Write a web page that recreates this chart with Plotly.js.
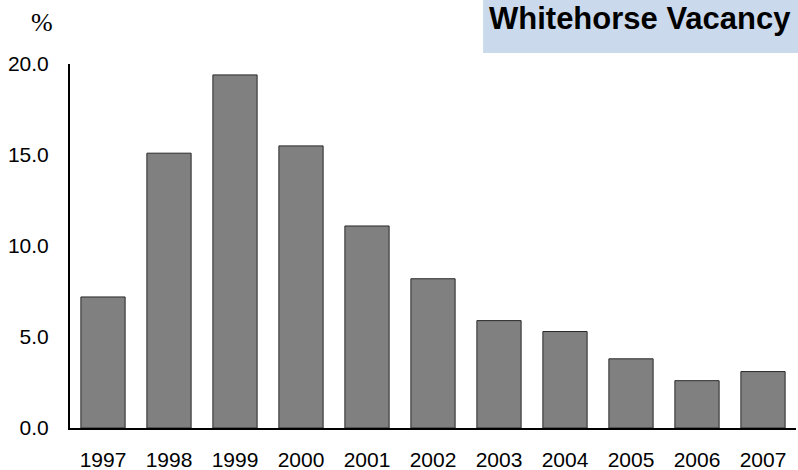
<!DOCTYPE html>
<html>
<head>
<meta charset="utf-8">
<script src="https://cdn.plot.ly/plotly-3.0.1.min.js"></script>
<style>
  html, body { margin: 0; padding: 0; background: #fff; }
  #chart { width: 798px; height: 470px; }
</style>
</head>
<body>
<div id="chart"></div>
<script>
// vacancy rate by year (%)
let years = ['1997', '1998', '1999', '2000', '2001', '2002', '2003', '2004', '2005', '2006', '2007'];
let vacancyRates = [7.2, 15.1, 19.4, 15.5, 11.1, 8.2, 5.9, 5.3, 3.8, 2.6, 3.1];
let yTicks = [0, 5, 10, 15, 20];

let vacancyTrace = {
    x: years,
    y: vacancyRates,
    type: 'bar',
    marker: { color: 'rgb(128,128,128)', line: { color: 'rgb(40,40,40)', width: 1 } },
    hoverinfo: 'x+y'
};

let layout_vacancy = {
    width: 798,
    height: 470,
    margin: { l: 70, r: 2, t: 64, b: 42 },
    paper_bgcolor: '#fff',
    plot_bgcolor: '#fff',
    bargap: 0.33,
    showlegend: false,
    font: { family: 'Liberation Sans, Arial, sans-serif', size: 21, color: '#000' },
    xaxis: {
        type: 'category',
        showline: true, linecolor: '#000', linewidth: 2,
        ticks: '', showgrid: false, zeroline: false,
        ticklabelstandoff: 12,
        tickfont: { size: 21 }
    },
    yaxis: {
        range: [0, 20],
        tickvals: yTicks,
        ticktext: yTicks.map(v => v.toFixed(1)),
        showline: true, linecolor: '#000', linewidth: 2,
        ticks: '', showgrid: false, zeroline: false,
        ticklabelstandoff: 15,
        tickfont: { size: 21 }
    },
    shapes: [{
        type: 'rect', xref: 'paper', yref: 'paper',
        x0: 0.569, x1: 1.01, y0: 1.03, y1: 1.2,
        fillcolor: 'rgb(203,217,237)', line: { width: 0 }, layer: 'below'
    }],
    annotations: [
        {
            text: '<b>Whitehorse Vacancy</b>', xref: 'paper', yref: 'paper',
            x: 0.785, y: 1.124, xanchor: 'center', yanchor: 'middle', showarrow: false,
            font: { size: 31, family: 'Liberation Sans, Arial, sans-serif' }
        },
        {
            text: '%', xref: 'paper', yref: 'paper',
            x: -0.0386, y: 1.115, xanchor: 'center', yanchor: 'middle', showarrow: false,
            font: { size: 26, family: 'Liberation Serif, Times New Roman, serif' }
        }
    ]
};

Plotly.newPlot('chart', [vacancyTrace], layout_vacancy, { displayModeBar: false });
</script>
</body>
</html>
